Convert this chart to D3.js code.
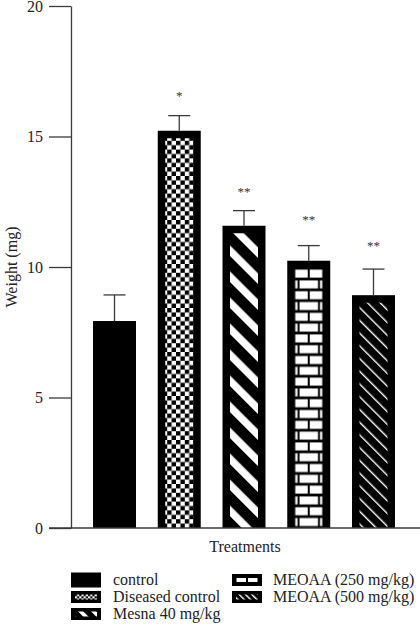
<!DOCTYPE html>
<html>
<head>
<meta charset="utf-8">
<script src="https://cdn.jsdelivr.net/npm/d3@7"></script>
<style>
html,body{margin:0;padding:0;background:#fff;}
svg{display:block;}
</style>
</head>
<body>
<svg id="chart" width="420" height="636"></svg>
<script>
const categories = ["control","Diseased control","Mesna 40 mg/kg","MEOAA (250 mg/kg)","MEOAA (500 mg/kg)"];
const means = [7.93, 15.22, 11.58, 10.24, 8.92];
const errors = [1.0, 0.58, 0.58, 0.58, 1.0];
const stars = ["", "*", "**", "**", "**"];
const starLevels = [0, 16.6, 12.9, 11.85, 10.85];
const patterns = ["solid","checker","stripes","brick","lines"];
const yTicks = [0,5,10,15,20];
const legendOrder = [[0,1,2],[3,4]];

const FONT = "'Liberation Serif', 'DejaVu Serif', serif";
const svg = d3.select("#chart").attr("font-family", FONT);
const axisX = 71, baseY = 528, topY = 6;

const y = d3.scaleLinear().domain([0,20]).range([baseY, topY]);
const x = d3.scaleBand().domain(categories).range([93, 395]).paddingInner(0.336).paddingOuter(0);

const defs = svg.append("defs");
function makePatterns(id, s){
  const c = defs.append("pattern").attr("id","checker"+id).attr("patternUnits","userSpaceOnUse")
    .attr("width",8.8*s).attr("height",8.8*s);
  c.append("rect").attr("width",8.8*s).attr("height",8.8*s).attr("fill","#fff");
  c.append("rect").attr("width",4.4*s).attr("height",4.4*s).attr("fill","#000");
  c.append("rect").attr("x",4.4*s).attr("y",4.4*s).attr("width",4.4*s).attr("height",4.4*s).attr("fill","#000");
  const st = defs.append("pattern").attr("id","stripes"+id).attr("patternUnits","userSpaceOnUse")
    .attr("width",18.4*s).attr("height",18.4*s).attr("patternTransform","rotate(-45)");
  st.append("rect").attr("width",18.4*s).attr("height",18.4*s).attr("fill","#000");
  st.append("rect").attr("width",7.5*s).attr("height",18.4*s).attr("fill","#fff");
  const ln = defs.append("pattern").attr("id","lines"+id).attr("patternUnits","userSpaceOnUse")
    .attr("width",9*s).attr("height",9*s).attr("patternTransform","rotate(-45)");
  ln.append("rect").attr("width",9*s).attr("height",9*s).attr("fill","#000");
  ln.append("rect").attr("width",1.4).attr("height",9*s).attr("fill","#fff");
}
makePatterns("", 1);
makePatterns("L", 0.5);

function brickPattern(id, x0, y0, w, rowH, brickH){
  const p = defs.append("pattern").attr("id",id).attr("patternUnits","userSpaceOnUse")
    .attr("x",x0).attr("y",y0).attr("width",w).attr("height",rowH*2);
  p.append("rect").attr("width",w).attr("height",rowH*2).attr("fill","#000");
  const g = 2;
  const half = (w - g)/2;
  p.append("rect").attr("x",0.5).attr("y",(rowH-brickH)/2).attr("width",half-0.5).attr("height",brickH).attr("fill","#fff");
  p.append("rect").attr("x",half+g).attr("y",(rowH-brickH)/2).attr("width",half-0.5).attr("height",brickH).attr("fill","#fff");
  const side = w*0.08;
  p.append("rect").attr("x",0.5).attr("y",rowH+(rowH-brickH)/2).attr("width",side).attr("height",brickH).attr("fill","#fff");
  p.append("rect").attr("x",side+0.5+g).attr("y",rowH+(rowH-brickH)/2).attr("width",w-2*side-2*g-1).attr("height",brickH).attr("fill","#fff");
  p.append("rect").attr("x",w-side-0.5).attr("y",rowH+(rowH-brickH)/2).attr("width",side).attr("height",brickH).attr("fill","#fff");
}

const border = 7.5;
const bars = svg.append("g");
categories.forEach((c,i)=>{
  const bx = x(c), bw = x.bandwidth(), by = y(means[i]), bh = baseY - y(means[i]);
  bars.append("rect").attr("x",bx).attr("y",by).attr("width",bw).attr("height",bh).attr("fill","#000");
  const pt = patterns[i];
  if(pt === "solid") return;
  const ix = bx+border, iy = by+border, iw = bw-2*border, ih = bh-border;
  let fill;
  if(pt === "brick"){
    brickPattern("brick"+i, ix, iy, iw, 10.8, 8);
    fill = "url(#brick"+i+")";
  } else {
    fill = "url(#"+pt+")";
  }
  bars.append("rect").attr("x",ix).attr("y",iy).attr("width",iw).attr("height",ih).attr("fill",fill);
});

const eb = svg.append("g").attr("stroke","#3a3a3a").attr("stroke-width",1.3).attr("fill","none");
categories.forEach((c,i)=>{
  const cx = x(c)+x.bandwidth()/2;
  eb.append("line").attr("x1",cx).attr("x2",cx).attr("y1",y(means[i])).attr("y2",y(means[i]+errors[i]));
  eb.append("line").attr("x1",cx-11).attr("x2",cx+11).attr("y1",y(means[i]+errors[i])).attr("y2",y(means[i]+errors[i]));
});

categories.forEach((c,i)=>{
  if(!stars[i]) return;
  svg.append("text").attr("x",x(c)+x.bandwidth()/2).attr("y",y(starLevels[i])+5)
    .attr("text-anchor","middle").attr("font-size",13).attr("fill","#333").text(stars[i]);
});

const yAxis = d3.axisLeft(y).tickValues(yTicks).tickSize(22).tickSizeOuter(0).tickPadding(6).tickFormat(d3.format("d"));
const ga = svg.append("g").attr("transform",`translate(${axisX},0)`).call(yAxis)
  .attr("font-family", FONT).attr("font-size",16);
ga.selectAll("path,line").attr("stroke","#3a3a3a").attr("stroke-width",1.3);
ga.selectAll("text").attr("fill","#222").attr("dy","0.34em");

svg.append("line").attr("x1",49).attr("x2",420).attr("y1",baseY).attr("y2",baseY)
  .attr("stroke","#3a3a3a").attr("stroke-width",1.3);

svg.append("text").attr("x",245).attr("y",552).attr("text-anchor","middle").attr("font-size",16).attr("fill","#222").text("Treatments");
svg.append("text").attr("transform","translate(17,267) rotate(-90)").attr("text-anchor","middle").attr("font-size",16).attr("fill","#222").text("Weight (mg)");

const colX = [[71,113],[232,273]];
const rowY = [580, 597, 614];
legendOrder.forEach((col,ci)=>{
  col.forEach((idx,ri)=>{
    const sx = colX[ci][0], tx = colX[ci][1], cy = rowY[ri];
    const sw = 30, sh = (patterns[idx]==="solid") ? 15 : 12;
    svg.append("rect").attr("x",sx).attr("y",cy-sh/2).attr("width",sw).attr("height",sh).attr("fill","#000");
    const pt = patterns[idx];
    if(pt !== "solid"){
      const ix = sx+4, iy = cy-2.5, iw = sw-8, ih = 5;
      let fill;
      if(pt === "brick"){
        brickPattern("brickL", ix, iy-1.4, iw, 7.8, 4);
        fill = "url(#brickL)";
      } else fill = "url(#"+pt+"L)";
      svg.append("rect").attr("x",ix).attr("y",iy).attr("width",iw).attr("height",ih).attr("fill",fill);
    }
    svg.append("text").attr("x",tx).attr("y",cy+5).attr("font-size",16).attr("fill","#222").text(categories[idx]);
  });
});
</script>
</body>
</html>
